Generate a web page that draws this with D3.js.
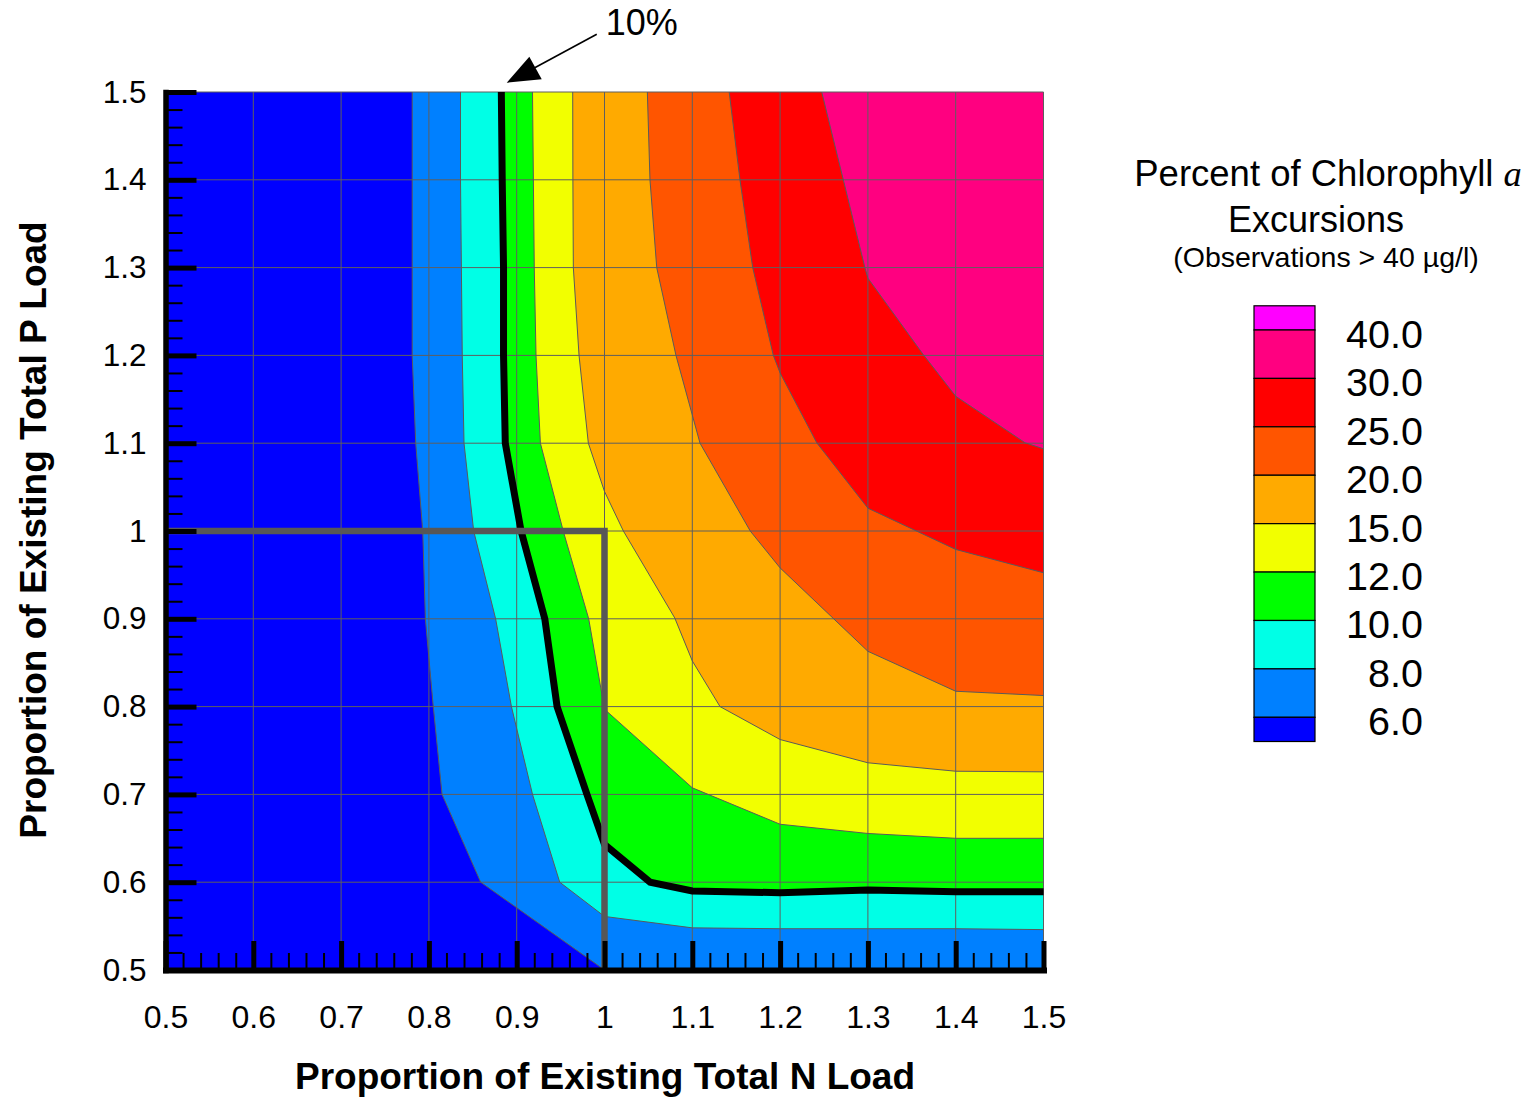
<!DOCTYPE html>
<html><head><meta charset="utf-8">
<script src="https://cdn.jsdelivr.net/npm/d3@7"></script>
<style>
body{margin:0;background:#fff}
svg{display:block}
text{font-family:"Liberation Sans",Arial,Helvetica,sans-serif;fill:#000}
</style>
</head><body>
<svg id="chart" width="1533" height="1098"></svg>
<script>
// ---- data ----
const levels = [6, 8, 10, 12, 15, 20, 25, 30, 40];
const bandColors = ["#0000FF","#0080FF","#00FFE6","#00FF00","#F2FF00","#FFAA00","#FF5500","#FF0000","#FF0080","#FF00FF"];
const legendLabels = ["40.0","30.0","25.0","20.0","15.0","12.0","10.0","8.0","6.0"];

// contour lines [N load, P load]
const contour6  = [[0.781,1.5],[0.781,1.4],[0.781,1.3],[0.781,1.2],[0.785,1.1],[0.793,1.0],[0.796,0.9],[0.805,0.8],[0.815,0.7],[0.859,0.6],[1.0,0.5]];
const contour8  = [[0.836,1.5],[0.836,1.4],[0.837,1.3],[0.838,1.2],[0.840,1.1],[0.851,1.0],[0.876,0.9],[0.894,0.8],[0.918,0.7],[0.949,0.6],[1.0,0.561],[1.1,0.548],[1.2,0.547],[1.3,0.547],[1.4,0.547],[1.5,0.546]];
const contour10 = [[0.8825,1.5],[0.8835,1.4],[0.885,1.3],[0.885,1.2],[0.887,1.1],[0.905,1.0],[0.932,0.9],[0.946,0.8],[0.98,0.7],[1.0,0.643],[1.052,0.6],[1.1,0.59],[1.2,0.588],[1.3,0.591],[1.4,0.589],[1.5,0.589]];
const contour12 = [[0.918,1.5],[0.919,1.4],[0.920,1.3],[0.922,1.2],[0.927,1.1],[0.953,1.0],[0.982,0.9],[1.0,0.797],[1.1,0.7075],[1.2,0.666],[1.3,0.6555],[1.4,0.650],[1.5,0.650]];
const contour15 = [[0.9638,1.5],[0.964,1.4],[0.9645,1.3],[0.971,1.2],[0.9816,1.1],[1.0,1.045],[1.0215,1.0],[1.080,0.901],[1.1,0.852],[1.1316,0.8],[1.2,0.7625],[1.3,0.736],[1.4,0.7264],[1.5,0.7257]];
const contour20 = [[1.0488,1.5],[1.0518,1.4],[1.0595,1.3],[1.0814,1.2],[1.1088,1.1],[1.166,1.0],[1.2,0.958],[1.3,0.863],[1.4,0.8175],[1.5,0.8126]];
const contour25 = [[1.142,1.5],[1.1543,1.4],[1.1688,1.3],[1.1923,1.2],[1.2,1.18],[1.2417,1.1005],[1.3,1.026],[1.4,0.979],[1.5,0.9524]];
const contour30 = [[1.2474,1.5],[1.272,1.4],[1.2966,1.3],[1.3,1.288],[1.363,1.201],[1.4,1.1535],[1.479,1.1005],[1.5,1.0936]];
const contours = [contour6, contour8, contour10, contour12, contour15, contour20, contour25, contour30];

const xTicks = [0.5,0.6,0.7,0.8,0.9,1.0,1.1,1.2,1.3,1.4,1.5];
const yTicks = [0.5,0.6,0.7,0.8,0.9,1.0,1.1,1.2,1.3,1.4,1.5];
const referenceLoad = [[0.5,1.0],[1.0,1.0],[1.0,0.5]];
const highlightLevel = 10;

// ---- chart ----
const svg = d3.select("#chart");
const x = d3.scaleLinear().domain([0.5,1.5]).range([165.5,1043.5]);
const y = d3.scaleLinear().domain([0.5,1.5]).range([970,92]);
const line = d3.line().x(d=>x(d[0])).y(d=>y(d[1]));
const [x0,x1] = x.domain(), [y0,y1] = y.domain();

// base band
svg.append("rect").attr("x",x(x0)).attr("y",y(y1))
  .attr("width",x(x1)-x(x0)).attr("height",y(y0)-y(y1))
  .attr("fill",bandColors[0]);

// filled bands: region above each contour
contours.forEach((c,i)=>{
  const last = c[c.length-1];
  const closing = (last[1] === y0 && last[0] < x1) ? [[x1,y0],[x1,y1]] : [[x1,y1]];
  svg.append("path").attr("d", line(c.concat(closing)) + "Z")
    .attr("fill", bandColors[i+1]).attr("stroke","none");
});

// grid
const grid = svg.append("g").attr("stroke","#5f5f5f").attr("stroke-width",1);
xTicks.forEach(v=>grid.append("line").attr("x1",x(v)).attr("x2",x(v)).attr("y1",y(y0)).attr("y2",y(y1)));
yTicks.forEach(v=>grid.append("line").attr("y1",y(v)).attr("y2",y(v)).attr("x1",x(x0)).attr("x2",x(x1)));

// thin contour lines
contours.forEach(c=>{
  svg.append("path").attr("d",line(c)).attr("fill","none").attr("stroke","#5a5a5a").attr("stroke-width",1);
});

// highlighted 10% contour
const hi = contours[levels.indexOf(highlightLevel)];
svg.append("path").attr("d",line(hi)).attr("fill","none").attr("stroke","#000")
  .attr("stroke-width",7).attr("stroke-linejoin","miter");

// reference (existing load) lines
svg.append("path").attr("d",line(referenceLoad)).attr("fill","none")
  .attr("stroke","#575757").attr("stroke-width",6.5).attr("stroke-linejoin","miter");

// axes
const fmt = d => String(+d.toFixed(1));
const minorX = d3.range(0.52,1.5,0.02).filter(v=>Math.abs(v*10-Math.round(v*10))>0.01);
const minorY = minorX;

const gyMinor = svg.append("g").attr("transform",`translate(${x(x0)},0)`)
  .call(d3.axisLeft(y).tickValues(minorY).tickSize(-17).tickSizeOuter(0).tickFormat(""));
gyMinor.selectAll(".tick line").attr("stroke","#000").attr("stroke-width",2);
gyMinor.select(".domain").remove();
const gxMinor = svg.append("g").attr("transform",`translate(0,${y(y0)})`)
  .call(d3.axisBottom(x).tickValues(minorX).tickSize(-17).tickSizeOuter(0).tickFormat(""));
gxMinor.selectAll(".tick line").attr("stroke","#000").attr("stroke-width",2);
gxMinor.select(".domain").remove();

const gy = svg.append("g").attr("transform",`translate(${x(x0)},0)`)
  .call(d3.axisLeft(y).tickValues(yTicks).tickSize(-31).tickSizeOuter(0).tickPadding(19).tickFormat(fmt));
gy.selectAll(".tick line").attr("stroke","#000").attr("stroke-width",5);
gy.select(".domain").attr("stroke","#000").attr("stroke-width",5.5).attr("stroke-linecap","square");
gy.selectAll(".tick text").attr("font-size",31.5).attr("font-family","Liberation Sans, Arial, sans-serif").attr("fill","#000");

const gx = svg.append("g").attr("transform",`translate(0,${y(y0)})`)
  .call(d3.axisBottom(x).tickValues(xTicks).tickSize(-29).tickSizeOuter(0).tickPadding(35).tickFormat(fmt));
gx.selectAll(".tick line").attr("stroke","#000").attr("stroke-width",5);
gx.select(".domain").attr("stroke","#000").attr("stroke-width",6).attr("stroke-linecap","square");
gx.selectAll(".tick text").attr("font-size",32).attr("font-family","Liberation Sans, Arial, sans-serif").attr("fill","#000");

// axis titles
svg.append("text").attr("x",605).attr("y",1089).attr("text-anchor","middle")
  .attr("font-size",37).attr("font-weight","bold").text("Proportion of Existing Total N Load");
svg.append("text").attr("transform","translate(46,530) rotate(-90)").attr("text-anchor","middle")
  .attr("font-size",37).attr("font-weight","bold").text("Proportion of Existing Total P Load");

// 10% annotation
const tip = [x(hi[0][0]) + 5.4, y(y1) - 9.3];
svg.append("line").attr("x1",tip[0]+90).attr("y1",tip[1]-48.5).attr("x2",tip[0]+28).attr("y2",tip[1]-15)
  .attr("stroke","#000").attr("stroke-width",1.6);
svg.append("path").attr("d",`M${tip[0]},${tip[1]}L${tip[0]+22.6},${tip[1]-26}L${tip[0]+35},${tip[1]-3.4}Z`).attr("fill","#000");
svg.append("text").attr("x",tip[0]+99).attr("y",35).attr("font-size",36).text(highlightLevel + "%");

// legend
const lg = svg.append("g");
const bx = 1254, bw = 61;
const ly = d3.scaleLinear().domain([0, levels.length-1]).range([330, 717.3]);
const step = ly(1)-ly(0);
const rev = bandColors.slice().reverse(); // top to bottom
rev.forEach((c,i)=>{
  const top = i===0 ? ly(0)-step/2 : ly(i-1);
  const bot = i===rev.length-1 ? ly(levels.length-1)+step/2 : ly(i);
  lg.append("rect").attr("x",bx).attr("y",top).attr("width",bw).attr("height",bot-top)
    .attr("fill",c).attr("stroke","#000").attr("stroke-width",1.2);
});
legendLabels.forEach((t,i)=>{
  lg.append("text").attr("x",1423).attr("y",ly(i)+18).attr("text-anchor","end")
    .attr("font-size",39.5).text(t);
});
const t1 = lg.append("text").attr("x",1328).attr("y",186).attr("text-anchor","middle").attr("font-size",36.5);
t1.append("tspan").text("Percent of Chlorophyll ");
t1.append("tspan").attr("font-family","Liberation Serif, Times New Roman, serif").attr("font-style","italic").text("a");
lg.append("text").attr("x",1316).attr("y",232).attr("text-anchor","middle").attr("font-size",36).text("Excursions");
lg.append("text").attr("x",1326).attr("y",267).attr("text-anchor","middle").attr("font-size",28.5).text("(Observations > 40 µg/l)");
</script>
</body></html>
